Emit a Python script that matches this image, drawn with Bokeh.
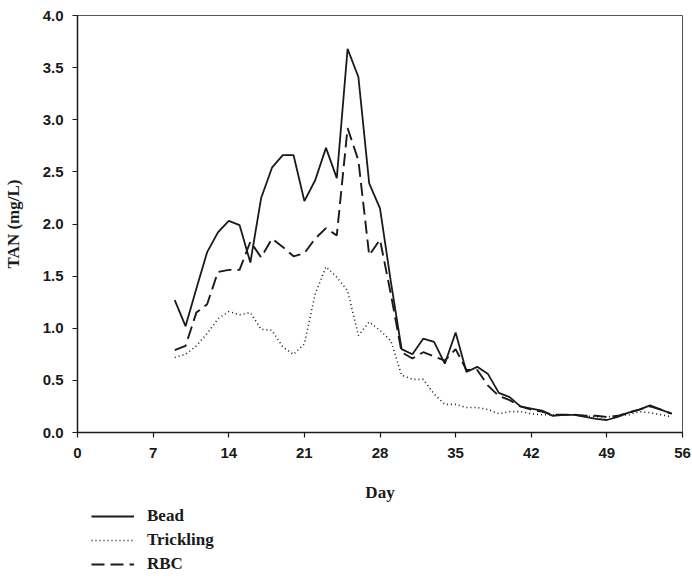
from bokeh.plotting import figure
from bokeh.layouts import column
from bokeh.models import FixedTicker, PrintfTickFormatter, Legend, LegendItem, Range1d
from bokeh.embed import file_html
from bokeh.resources import INLINE

days = list(range(9, 56))

bead = [1.27, 1.02, 1.38, 1.73, 1.92, 2.03, 1.99, 1.63, 2.25, 2.54,
        2.66, 2.66, 2.22, 2.42, 2.73, 2.44, 3.68, 3.41, 2.39, 2.15,
        1.45, 0.80, 0.75, 0.90, 0.87, 0.66, 0.96, 0.58, 0.63, 0.56,
        0.38, 0.34, 0.25, 0.23, 0.21, 0.16, 0.17, 0.17, 0.15, 0.13,
        0.12, 0.15, 0.19, 0.22, 0.26, 0.22, 0.18]

trickling = [0.72, 0.75, 0.83, 0.95, 1.09, 1.16, 1.13, 1.15, 0.99, 0.98,
             0.82, 0.75, 0.85, 1.33, 1.59, 1.49, 1.36, 0.93, 1.06, 0.98,
             0.88, 0.55, 0.51, 0.51, 0.37, 0.27, 0.27, 0.24, 0.24, 0.22,
             0.18, 0.20, 0.20, 0.18, 0.17, 0.17, 0.17, 0.17, 0.16, 0.15,
             0.15, 0.16, 0.17, 0.20, 0.19, 0.17, 0.15]

rbc = [0.79, 0.83, 1.15, 1.23, 1.54, 1.56, 1.56, 1.83, 1.68, 1.86,
       1.78, 1.69, 1.72, 1.86, 1.96, 1.89, 2.92, 2.61, 1.70, 1.85,
       1.33, 0.77, 0.71, 0.77, 0.73, 0.69, 0.80, 0.60, 0.60, 0.45,
       0.35, 0.31, 0.25, 0.22, 0.20, 0.17, 0.17, 0.17, 0.16, 0.16,
       0.15, 0.16, 0.19, 0.22, 0.25, 0.22, 0.18]

series_names = ["Bead", "Trickling", "RBC"]
x_ticks = [0, 7, 14, 21, 28, 35, 42, 49, 56]
y_ticks = [0.0, 0.5, 1.0, 1.5, 2.0, 2.5, 3.0, 3.5, 4.0]

INK = "#1a1a1a"
STYLES = [dict(line_color=INK, line_width=1.8),
          dict(line_color=INK, line_width=1.6, line_dash="1 3"),
          dict(line_color=INK, line_width=1.9, line_dash="13 6")]

p = figure(width=692, height=505, output_backend="svg", toolbar_location=None,
           x_range=Range1d(0, 56), y_range=Range1d(0, 4.0),
           min_border_left=77, min_border_right=10, min_border_top=15,
           min_border_bottom=73)

p.xgrid.visible = False
p.ygrid.visible = False
p.outline_line_color = "#555555"
p.outline_line_width = 1
p.background_fill_color = "white"
p.border_fill_color = "white"

for ys, st in zip([bead, trickling, rbc], STYLES):
    p.line(days, ys, **st)

for ax in (p.xaxis[0], p.yaxis[0]):
    ax.axis_line_color = INK
    ax.axis_line_width = 1.5
    ax.major_tick_line_color = INK
    ax.major_tick_line_width = 1.2
    ax.major_tick_out = 5
    ax.major_tick_in = 0
    ax.minor_tick_line_color = None
    ax.major_label_text_font = "Liberation Sans"
    ax.major_label_text_font_style = "bold"
    ax.major_label_text_font_size = "15px"
    ax.major_label_text_color = INK
    ax.axis_label_text_font = "Liberation Serif"
    ax.axis_label_text_font_style = "bold"
    ax.axis_label_text_font_size = "17px"
    ax.axis_label_text_color = INK

p.xaxis.ticker = FixedTicker(ticks=x_ticks)
p.yaxis.ticker = FixedTicker(ticks=y_ticks)
p.yaxis.formatter = PrintfTickFormatter(format="%.1f")
p.xaxis.axis_label = "Day"
p.yaxis.axis_label = "TAN (mg/L)"
p.xaxis.major_label_standoff = 10
p.yaxis.major_label_standoff = 9
p.xaxis.axis_label_standoff = 22
p.yaxis.axis_label_standoff = 17

# legend strip below the chart (same frame alignment as the chart)
lg = figure(width=692, height=73, output_backend="svg", toolbar_location=None,
            x_axis_type=None, y_axis_type=None,
            x_range=Range1d(0, 56), y_range=Range1d(10, 11),
            min_border_left=77, min_border_right=10, min_border_top=0,
            min_border_bottom=0)
lg.xgrid.visible = False
lg.ygrid.visible = False
lg.outline_line_color = None
lg.border_fill_color = "white"
lg.background_fill_color = "white"
proxies = [lg.line(days, ys, **st) for ys, st in zip([bead, trickling, rbc], STYLES)]

legend = Legend(items=[LegendItem(label=n, renderers=[r]) for n, r in zip(series_names, proxies)],
                location=(14, 4))
legend.border_line_color = None
legend.background_fill_alpha = 0
legend.padding = 0
legend.margin = 0
legend.spacing = 4
legend.glyph_width = 43
legend.glyph_height = 20
legend.label_height = 20
legend.label_standoff = 13
legend.label_text_font = "Liberation Serif"
legend.label_text_font_style = "bold"
legend.label_text_font_size = "17px"
legend.label_text_color = INK
lg.add_layout(legend)

layout = column(p, lg, spacing=0)
open("out.html", "w").write(file_html(layout, INLINE))
